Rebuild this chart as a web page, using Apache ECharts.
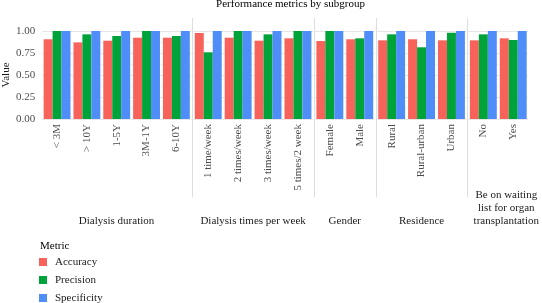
<!DOCTYPE html>
<html lang="en" style="height: 100%">
<head>
  <meta charset="utf-8">
  <style>
    html,body {
      margin: 0;
      padding: 0;
      width: 100%;
      height: 100%;
      overflow: hidden;
      background: #ffffff;
    }
  </style>
</head>
<body>
  <div id="container" style="height: 100%;width: 100%;"></div>

  <script type="text/javascript" src="https://cdn.jsdelivr.net/npm/echarts@6/dist/echarts.min.js"></script>
  <script type="text/javascript">
    // data
    const facetNames = ['Dialysis duration', 'Dialysis times per week', 'Gender', 'Residence', 'Be on waiting\nlist for organ\ntransplantation'];
    const facetSizes = [5, 4, 2, 3, 2];
    const categories = ['< 3M', '> 10Y', '1-5Y', '3M-1Y', '6-10Y',
      '1 time/week', '2 times/week', '3 times/week', '5 times/2 week',
      'Female', 'Male',
      'Rural', 'Rural-urban', 'Urban',
      'No', 'Yes'];
    const accuracy = [0.906, 0.870, 0.890, 0.924, 0.924,
      0.977, 0.924, 0.890, 0.917,
      0.886, 0.906,
      0.894, 0.906, 0.894,
      0.894, 0.917];
    const precision = [1.000, 0.962, 0.943, 1.000, 0.943,
      0.758, 1.000, 0.962, 1.000,
      1.000, 0.917,
      0.962, 0.815, 0.981,
      0.962, 0.898];
    const specificity = [1, 1, 1, 1, 1,
      1, 1, 1, 1,
      1, 1,
      1, 1, 1,
      1, 1];
    const yTicks = [0, 0.25, 0.5, 0.75, 1];

    const metricNames = ['Accuracy', 'Precision', 'Specificity'];
    const metricColors = ['#F7625A', '#00A33A', '#4F8DF9'];
    const metricValues = [accuracy, precision, specificity];

    const font = 'Liberation Serif';
    var dom = document.getElementById('container');
    var myChart = echarts.init(dom, null, { renderer: 'canvas' });

    // layout of the facet panels
    let unit = 29.9;
    let gap = 2;
    let x0 = 41.8;
    let plotTop = 31;
    let plotBottom = 303 - 119;

    let grids = [], xAxes = [], yAxes = [], series = [], graphics = [];
    let left = x0, start = 0;
    facetSizes.forEach(function (n, i) {
      let w = n * unit;
      grids.push({ left: left, width: w, top: plotTop, bottom: plotBottom, containLabel: false });
      let cats = categories.slice(start, start + n);
      xAxes.push({
        type: 'category',
        gridIndex: i,
        data: cats,
        axisLine: { show: false },
        axisTick: { show: false },
        axisLabel: { rotate: 90, margin: 5, fontSize: 11, color: '#4D4D4D', fontFamily: font, interval: 0 }
      });
      yAxes.push({
        type: 'value',
        gridIndex: i,
        min: 0,
        max: 1,
        interval: 0.25,
        name: i === 0 ? 'Value' : '',
        nameLocation: 'middle',
        nameGap: 28,
        nameRotate: 90,
        nameTextStyle: { fontSize: 11, color: '#1A1A1A', fontFamily: font },
        axisLine: { show: false },
        axisTick: { show: false },
        axisLabel: {
          show: i === 0, margin: 7, fontSize: 11, color: '#4D4D4D', fontFamily: font,
          formatter: function (v) { return yTicks.indexOf(v) >= 0 ? v.toFixed(2) : ''; }
        },
        splitLine: { lineStyle: { color: '#E6E6E6', width: 1 } },
        minorTick: { show: false, splitNumber: 2 },
        minorSplitLine: { show: true, lineStyle: { color: '#F2F2F2', width: 1 } }
      });
      metricNames.forEach(function (m, k) {
        series.push({
          name: m,
          type: 'bar',
          xAxisIndex: i,
          yAxisIndex: i,
          data: metricValues[k].slice(start, start + n),
          itemStyle: { color: metricColors[k] },
          barGap: '0%',
          barCategoryGap: '10%'
        });
      });
      // strip label below panel
      let cx = left + w / 2;
      if (i === facetSizes.length - 1) cx += 8;
      graphics.push({
        type: 'text',
        x: cx,
        y: 227,
        style: { text: facetNames[i], fill: '#1A1A1A', font: '11px "' + font + '"', textAlign: 'center', textVerticalAlign: 'bottom', lineHeight: 12.7 }
      });
      // separator line between panels
      if (i < facetSizes.length - 1) {
        let sx = Math.round(left + w + gap / 2) + 0.5;
        graphics.push({
          type: 'line',
          shape: { x1: sx, y1: 18, x2: sx, y2: 197 },
          style: { stroke: '#DEDEDE', lineWidth: 1 }
        });
      }
      left += w + gap;
      start += n;
    });

    graphics.push({
      type: 'text', x: 290.5, y: 4.5,
      style: { text: 'Performance metrics by subgroup', fill: '#000', font: '11px "' + font + '"', textAlign: 'center', textVerticalAlign: 'middle' }
    });
    graphics.push({
      type: 'text', x: 40, y: 246,
      style: { text: 'Metric', fill: '#000', font: '11px "' + font + '"', textAlign: 'left', textVerticalAlign: 'middle' }
    });

    var option = {
      animation: false,
      grid: grids,
      xAxis: xAxes,
      yAxis: yAxes,
      series: series,
      legend: {
        data: metricNames,
        orient: 'vertical',
        left: 39,
        top: 256,
        height: 80,
        icon: 'rect',
        itemWidth: 8,
        itemHeight: 8,
        itemGap: 6,
        padding: 0,
        textStyle: { fontSize: 11, color: '#1A1A1A', fontFamily: font, lineHeight: 12, padding: [0, 0, 0, 3] }
      },
      graphic: graphics
    };
    myChart.setOption(option);
    window.addEventListener('resize', myChart.resize);
  </script>
</body>
</html>
